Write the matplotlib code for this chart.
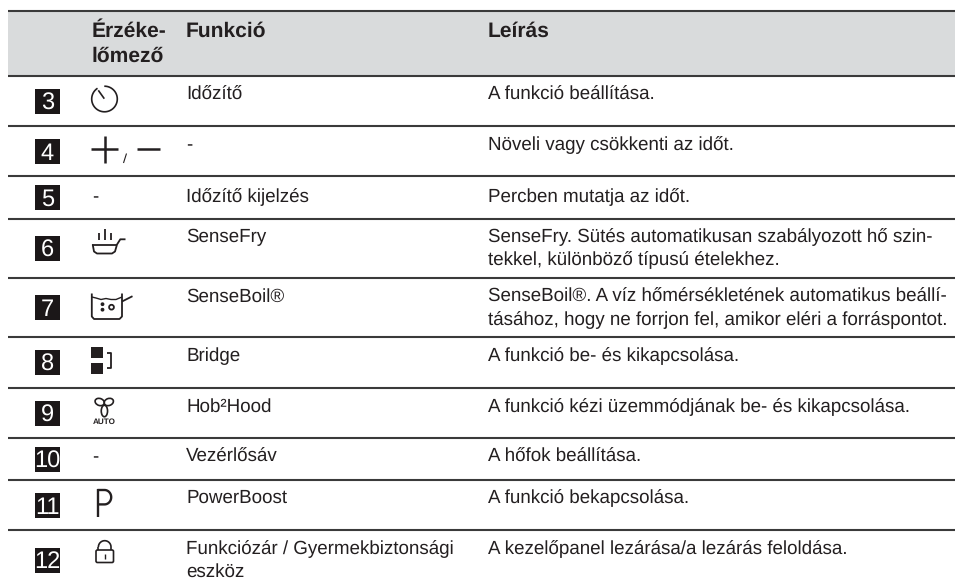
import numpy as np
import matplotlib
matplotlib.use("Agg")
import matplotlib.pyplot as plt
from matplotlib.patches import Rectangle, Circle, FancyBboxPatch, Ellipse

plt.rcParams['font.family'] = ['Liberation Sans', 'DejaVu Sans']
plt.rcParams['text.hinting'] = 'none'

# table content
headers = ["Érzéke-\nlőmező", "Funkció", "Leírás"]
numbers = ["3", "4", "5", "6", "7", "8", "9", "10", "11", "12"]
functions = ["Időzítő", "-", "Időzítő kijelzés", "SenseFry", "SenseBoil®", "Bridge",
             "Hob²Hood", "Vezérlősáv", "PowerBoost",
             "Funkciózár / Gyermekbiztonsági\neszköz"]
descriptions = [
    "A funkció beállítása.",
    "Növeli vagy csökkenti az időt.",
    "Percben mutatja az időt.",
    "SenseFry. Sütés automatikusan szabályozott hő szin-\ntekkel, különböző típusú ételekhez.",
    "SenseBoil®. A víz hőmérsékletének automatikus beállí-\ntásához, hogy ne forrjon fel, amikor eléri a forráspontot.",
    "A funkció be- és kikapcsolása.",
    "A funkció kézi üzemmódjának be- és kikapcsolása.",
    "A hőfok beállítása.",
    "A funkció bekapcsolása.",
    "A kezelőpanel lezárása/a lezárás feloldása.",
]
sensors = ["clock", "plusminus", "-", "pan", "pot", "bridge", "fan", "-", "P", "lock"]

# layout, in pixels of the page
line_y = [10.5, 75.5, 126, 176, 219, 277.5, 337, 387.5, 438, 480, 530]
badge_top = [89, 139, 185, 236, 295, 350, 401, 447, 493, 548]
text_base = [100, 150, 202, 241.7, 301.7, 360.7, 412, 462, 503, 553.7]
X_LEFT, X_RIGHT = 8, 955
X_BADGE, X_SENS, X_FUNC, X_DESC = 35, 92, 186, 487.5
INK = "#231f20"
LINE = "#3a3a3a"
BODY = 13.5
HEAD = 15.1
LS = 23

fig = plt.figure(figsize=(9.55, 5.86), dpi=100)
ax = fig.add_axes([0, 0, 1, 1])
ax.set_xlim(0, 955)
ax.set_ylim(586, 0)
ax.axis("off")


def stroke(xs, ys, lw=1.3):
    ax.plot(xs, ys, color=INK, lw=lw, solid_capstyle="butt", solid_joinstyle="round")


def arc(cx, cy, r, a0, a1, lw=1.3):
    t = np.radians(np.linspace(a0, a1, 60))
    stroke(cx + r * np.cos(t), cy - r * np.sin(t), lw)


def draw_clock():
    arc(104.5, 99, 12.8, 91, -237, 1.2)
    stroke([98.3, 104.3], [90.3, 98.7], 1.2)


def draw_plusminus():
    stroke([91, 118], [148.5, 148.5], 1.8)
    stroke([104.7, 104.7], [136, 163], 1.8)
    stroke([123.5, 126.5], [163, 153.5], 0.8)
    stroke([137, 160], [148.5, 148.5], 1.8)


def draw_pan():
    stroke([99, 99], [233, 239.5])
    stroke([105.3, 105.3], [228.5, 239.5])
    stroke([110.5, 110.5], [233, 239.5])
    stroke([91.7, 116.7], [244.5, 244.5])
    stroke([92.7, 94, 97, 112, 115, 117, 120.3, 125.5],
           [244.5, 251.5, 253.5, 253.5, 251.5, 244.5, 239.3, 239.3])


def draw_pot():
    stroke([91.8, 91.8, 94, 119.5, 122, 122], [293.5, 316.5, 319, 319, 316.5, 293.5])
    wx = np.array([91.8, 96, 101, 106, 111, 116, 122])
    wy = np.array([297, 298, 299.5, 298.5, 299.5, 299.5, 297])
    stroke(wx, wy, 1.0)
    stroke([122, 132.5], [301.5, 296.2])
    ax.add_patch(Circle((102.5, 304.2), 1.2, color=INK))
    ax.add_patch(Circle((102.5, 309.7), 1.2, color=INK))
    ax.add_patch(Circle((111.5, 307.2), 2.4, fill=False, ec=INK, lw=1.3))


def draw_bridge():
    ax.add_patch(Rectangle((91, 346.7), 12, 11.6, color=INK, lw=0))
    ax.add_patch(Rectangle((91, 362.7), 12, 11.3, color=INK, lw=0))
    stroke([106.7, 110.5, 110.5, 106.7], [353, 353, 367.5, 367.5], 1.3)


def draw_fan():
    ax.add_patch(Ellipse((99.7, 402), 9.5, 7, angle=20, fill=False, ec=INK, lw=1.2))
    ax.add_patch(Ellipse((108.8, 402), 9.5, 7, angle=-20, fill=False, ec=INK, lw=1.2))
    ax.add_patch(Ellipse((104.4, 411), 6.3, 11.5, fill=False, ec=INK, lw=1.2))
    ax.text(104.7, 424.3, "AUTO", fontsize=5.9, fontweight="bold", color=INK,
            ha="center", va="baseline")


def draw_p():
    t = np.radians(np.linspace(90, -90, 40))
    bx = 104.5 + 6.7 * np.cos(t)
    by = 497.2 + 7.2 * np.sin(t) * -1
    stroke(np.r_[97.5, 104.5, bx, 97.5], np.r_[490, 490, by, 504.4], 1.7)
    stroke([97.5, 97.5], [489.3, 517], 1.7)


def draw_lock():
    ax.add_patch(FancyBboxPatch((96, 550), 17.5, 12.5, boxstyle="round,pad=0,rounding_size=1.5",
                                fill=False, ec=INK, lw=1.2))
    arc(104.7, 547, 6.3, 0, 180, 1.2)
    stroke([98.4, 98.4], [547, 550], 1.2)
    stroke([111, 111], [547, 550], 1.2)
    stroke([104.7, 104.7], [554.3, 558.7], 1.0)


icons = {"clock": draw_clock, "plusminus": draw_plusminus, "pan": draw_pan, "pot": draw_pot,
         "bridge": draw_bridge, "fan": draw_fan, "P": draw_p, "lock": draw_lock}

# header band and rules
ax.add_patch(Rectangle((X_LEFT, line_y[0]), X_RIGHT - X_LEFT, line_y[1] - line_y[0],
                       color="#d9dbdc", lw=0, zorder=0))
for y in line_y:
    ax.plot([X_LEFT, X_RIGHT], [y, y], color=LINE, lw=1.5, solid_capstyle="butt")

# header text
sens_lines = headers[0].split("\n")
ax.text(X_SENS, 36.7, sens_lines[0], fontsize=HEAD, fontweight="bold", color=INK, va="baseline")
ax.text(X_SENS, 61.3, sens_lines[1], fontsize=HEAD, fontweight="bold", color=INK, va="baseline")
ax.text(X_FUNC, 36.7, headers[1], fontsize=HEAD, fontweight="bold", color=INK, va="baseline")
ax.text(X_DESC, 36.7, headers[2], fontsize=HEAD, fontweight="bold", color=INK, va="baseline")

# rows
for i, num in enumerate(numbers):
    top = badge_top[i]
    ax.add_patch(Rectangle((X_BADGE, top), 25, 25, color="#1b1718", lw=0))
    ax.text(X_BADGE + 12.5, top + 20.5, num, fontsize=17, color="white", ha="center", va="baseline")

    base = text_base[i]
    if sensors[i] == "-":
        ax.text(X_SENS, base, "-", fontsize=BODY, color=INK, va="baseline")
    else:
        icons[sensors[i]]()

    for col_x, cell in ((X_FUNC, functions[i]), (X_DESC, descriptions[i])):
        for k, part in enumerate(cell.split("\n")):
            ax.text(col_x, base + k * LS, part, fontsize=BODY, color=INK, va="baseline")

fig.savefig("out.png", dpi=100)
